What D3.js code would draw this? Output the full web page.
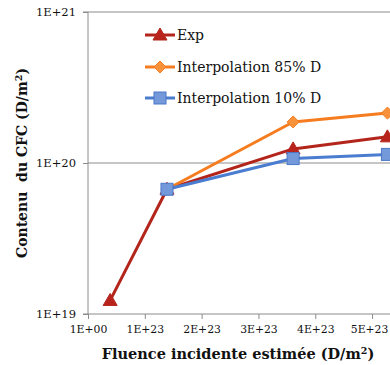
<!DOCTYPE html>
<html><head><meta charset="utf-8">
<script src="https://cdn.jsdelivr.net/npm/d3@7"></script>
<style>body{margin:0;background:#fff}svg{display:block}</style>
</head><body><svg id="c" width="390" height="365"></svg>
<script>
const xTicks = [0, 1e23, 2e23, 3e23, 4e23, 5e23];
const xTickLabels = ["1E+00", "1E+23", "2E+23", "3E+23", "4E+23", "5E+23"];
const yTicks = [1e19, 1e20, 1e21];
const yTickLabels = ["1E+19", "1E+20", "1E+21"];
const expX = [0.39e23, 1.39e23, 3.61e23, 5.27e23];
const expY = [1.23e19, 6.7e19, 1.24e20, 1.49e20];
const i85X = [1.39e23, 3.61e23, 5.27e23];
const i85Y = [6.7e19, 1.87e20, 2.14e20];
const i10X = [1.39e23, 3.61e23, 5.27e23];
const i10Y = [6.7e19, 1.07e20, 1.14e20];
const seriesNames = ["Exp", "Interpolation 85% D", "Interpolation 10% D"];

const svg = d3.select("#c");
const L = 88, R = 388, T = 12, B = 314;
const x = d3.scaleLinear().domain([0, 5.28e23]).range([L, R]);
const y = d3.scaleLog().domain([1e19, 1e21]).range([B, T]);
const serif = "'DejaVu Serif', 'Liberation Serif', serif";

// gridlines
svg.append("g").selectAll("line").data([1e20, 1e21]).join("line")
  .attr("x1", L).attr("x2", 390).attr("y1", d => y(d)).attr("y2", d => y(d))
  .attr("stroke", "#8c8c8c").attr("stroke-width", 1);

// y axis
const ya = svg.append("g").attr("transform", `translate(${L},0)`)
  .call(d3.axisLeft(y).tickValues(yTicks).tickFormat((d, i) => yTickLabels[i]).tickSize(5).tickPadding(7));
ya.select(".domain").attr("stroke", "#8c8c8c").attr("d", `M-5,${T}H0V${B}H-5`);
ya.selectAll(".tick line").attr("stroke", "#8c8c8c");
ya.selectAll("text").style("font-family", serif).attr("font-size", 11.5).attr("fill", "#111");

// x axis
const xa = svg.append("g").attr("transform", `translate(0,${B})`)
  .call(d3.axisBottom(x).tickValues(xTicks).tickFormat((d, i) => xTickLabels[i]).tickSize(5).tickSizeOuter(0).tickPadding(6));
xa.select(".domain").attr("stroke", "#8c8c8c").attr("d", `M${L},0H390`);
xa.selectAll(".tick line").attr("stroke", "#8c8c8c");
xa.selectAll("text").style("font-family", serif).attr("font-size", 10.8).attr("fill", "#111")
  .attr("dx", (d, i) => i === xTicks.length - 1 ? -3 : 0);

const series = [
  {name: seriesNames[0], xs: expX, ys: expY, color: "#B3241B", fill: "#B8241C", stroke: "#B3241B", shape: "tri"},
  {name: seriesNames[1], xs: i85X, ys: i85Y, color: "#F57C1F", fill: "#F7923A", stroke: "#F57C1F", shape: "dia"},
  {name: seriesNames[2], xs: i10X, ys: i10Y, color: "#4A7CCF", fill: "#7399DB", stroke: "#4A78C8", shape: "sq"}
];
const line = d3.line().x(d => x(d[0])).y(d => y(d[1]));

function marker(g, shape, cx, cy, s) {
  if (shape === "tri") {
    g.append("path").attr("d", `M${cx},${cy-7}L${cx+7},${cy+5}L${cx-7},${cy+5}Z`).attr("fill", s.fill).attr("stroke", s.stroke);
  } else if (shape === "dia") {
    g.append("path").attr("d", `M${cx},${cy-6}L${cx+6},${cy}L${cx},${cy+6}L${cx-6},${cy}Z`).attr("fill", s.fill).attr("stroke", s.stroke);
  } else {
    g.append("rect").attr("x", cx-6).attr("y", cy-6).attr("width", 12).attr("height", 12).attr("fill", s.fill).attr("stroke", s.stroke);
  }
}

series.forEach(s => {
  const pts = s.xs.map((v, i) => [v, s.ys[i]]);
  const g = svg.append("g");
  g.append("path").attr("d", line(pts)).attr("fill", "none").attr("stroke", s.color).attr("stroke-width", 3).attr("stroke-linejoin", "round");
  pts.forEach(p => marker(g, s.shape, x(p[0]), y(p[1]), s));
});

// legend
const legY = [35, 67, 98];
series.forEach((s, i) => {
  const g = svg.append("g");
  g.append("line").attr("x1", 145).attr("x2", 175).attr("y1", legY[i]).attr("y2", legY[i]).attr("stroke", s.color).attr("stroke-width", 3);
  marker(g, s.shape, 160, legY[i], s);
  g.append("text").attr("x", 177).attr("y", legY[i] + 5).style("font-family", serif).attr("font-size", 14).attr("fill", "#111").text(s.name);
});

// axis titles
const xt = svg.append("text").attr("x", 238).attr("y", 359).attr("text-anchor", "middle")
  .style("font-family", serif).attr("font-weight", "bold").attr("font-size", 14.5).attr("fill", "#111");
xt.append("tspan").text("Fluence incidente estimée (D/m");
xt.append("tspan").attr("font-size", 9.5).attr("dy", -5).text("2");
xt.append("tspan").attr("dy", 5).text(")");

const yt = svg.append("text").attr("transform", "translate(27,163) rotate(-90)").attr("text-anchor", "middle")
  .style("font-family", serif).attr("font-weight", "bold").attr("font-size", 14).attr("fill", "#111");
yt.append("tspan").style("white-space", "pre").text("Contenu  du CFC (D/m");
yt.append("tspan").attr("font-size", 9.5).attr("dy", -5).text("2");
yt.append("tspan").attr("dy", 5).text(")");
</script></body></html>
